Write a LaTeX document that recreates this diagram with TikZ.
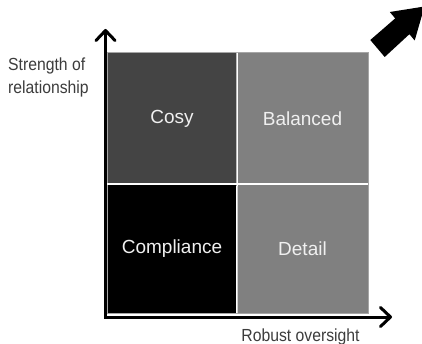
\documentclass[tikz,border=0pt]{standalone}
\usepackage{fontspec}
\setmainfont{Liberation Sans}
\newfontfamily\axisfont[FakeStretch=0.9]{Liberation Sans}
\usepackage{tikz}
\usetikzlibrary{arrows.meta}
\usetikzlibrary{calc}
\definecolor{cosygray}{RGB}{68,68,68}
\definecolor{midgray}{RGB}{128,128,128}
\definecolor{labelgray}{RGB}{60,60,60}
\definecolor{celltext}{RGB}{240,240,240}
\tikzset{cell/.style={rectangle, inner sep=0pt, text=celltext, font=\fontsize{19}{22}\selectfont}}
\tikzset{axis/.style={line width=3pt, arrows={Straight Barb[length=10pt, width=19pt, round]-Straight Barb[length=10pt, width=19pt, round]}}}
\tikzset{axislabel/.style={text=labelgray, inner sep=0pt, font=\axisfont\fontsize{17.5}{23}\selectfont}}

\begin{document}
\begin{tikzpicture}[x=1pt, y=-1pt]
	\useasboundingbox (0,0) rectangle (422,344);

	% Quadrants
	\node[cell, fill=cosygray, minimum width=130pt, minimum height=131pt] (cosy) at (172,118.5) {Cosy};
	\node[cell, fill=midgray, minimum width=131pt, minimum height=131pt] (balanced) at (302.5,118.5) {Balanced};
	\node[cell, fill=black, minimum width=130pt, minimum height=129pt] (compliance) at (172,248.5) {Compliance};
	\node[cell, fill=midgray, minimum width=131pt, minimum height=129pt] (detail) at (302.5,248.5) {Detail};

	\draw[gray!70, line width=0.6pt] (cosy.north west) rectangle (detail.south east);
	\draw[white, line width=1.5pt] (cosy.north east) -- (detail.north west |- detail.south west);
	\draw[white, line width=1.5pt] (cosy.south west) -- (balanced.south east);

	% Axes
	\coordinate (origin) at (105.5,317);
	\coordinate (ytip) at (105.5,29);
	\coordinate (xtip) at (392,317);
	\draw[axis] (ytip) -- (origin) -- (xtip);

	\node[axislabel, anchor=north west, align=left] (ylabel) at (8,58) {Strength of\\relationship};
	\node[axislabel, anchor=base] (xlabel) at (300.5,341) {Robust oversight};

	% Big arrow in the corner
	\begin{scope}
		\clip (0,0) rectangle (422,344);
		\coordinate (start) at (377.5,48.5);
		\fill[black] ($(start)+(-7.2,-8.5)$) -- ($(start)+(17.7,-30.1)$) -- ($(start)+(12.3,-36.5)$)
			-- ($(start)+(47,-42)$) -- ($(start)+(37.2,-8)$) -- ($(start)+(31.9,-14.3)$)
			-- ($(start)+(7.2,8.5)$) -- cycle;
	\end{scope}
\end{tikzpicture}
\end{document}
